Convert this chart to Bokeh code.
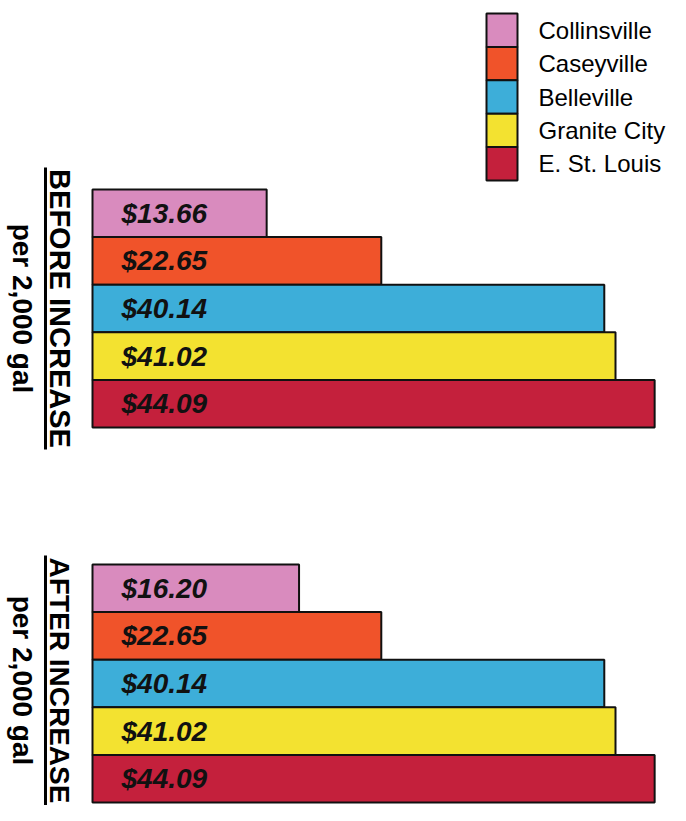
import math
from bokeh.plotting import figure
from bokeh.models import Range1d, ColumnDataSource
from bokeh.core.properties import value
from bokeh.embed import file_html
from bokeh.resources import INLINE

# ---- data ----
cities = ["Collinsville", "Caseyville", "Belleville", "Granite City", "E. St. Louis"]
colors = ["#D98BBE", "#F0532A", "#3DAED9", "#F3E230", "#C4203C"]
before = [13.66, 22.65, 40.14, 41.02, 44.09]
after = [16.20, 22.65, 40.14, 41.02, 44.09]
group_titles = ["BEFORE INCREASE", "AFTER INCREASE"]
unit_label = "per 2,000 gal"

# ---- layout (canvas pixels) ----
W, H = 670, 805
PX_PER_UNIT = 12.75
X0 = 92
BAR_H = 47.6
GROUP_TOPS = [189, 564]
TITLE_SHIFT = [0, -3]
TITLE_X = 59
UNIT_X = 22
UNDERLINE_X = 45
UNDERLINE_LEN = [282, 250]
TITLE_SIZE = ["29px", "28px"]
LEG_X0, LEG_X1 = 486, 517
LEG_TOP = 13
LEG_ROW = 33.4
LEG_TEXT_X = 538
FONT = value("Liberation Sans")

p = figure(width=W, height=H, output_backend="svg", toolbar_location=None,
           x_range=Range1d(-X0 / PX_PER_UNIT, (W - X0) / PX_PER_UNIT),
           y_range=Range1d(H, 0), min_border=0,
           x_axis_location=None, y_axis_location=None,
           background_fill_color="white", border_fill_color="white")
p.outline_line_color = None
p.grid.visible = False
p.extra_x_ranges = {"px": Range1d(0, W)}

for g, vals in enumerate([before, after]):
    tops = [GROUP_TOPS[g] + i * BAR_H for i in range(len(vals))]
    src = ColumnDataSource(dict(
        left=[0] * len(vals), right=vals,
        top=tops, bottom=[t + BAR_H for t in tops],
        mid=[t + BAR_H / 2 for t in tops],
        color=colors, label=[f"${v:.2f}" for v in vals],
    ))
    p.quad(left="left", right="right", top="top", bottom="bottom", source=src,
           fill_color="color", line_color="#111111", line_width=2)
    p.text(x="left", y="mid", text="label", source=src, x_offset=29,
           text_baseline="middle", text_align="left", text_font=FONT,
           text_font_style="bold italic", text_font_size="28px", text_color="#111111")

    center = GROUP_TOPS[g] + len(vals) * BAR_H / 2 + TITLE_SHIFT[g]
    p.text(x=[TITLE_X], y=[center], text=[group_titles[g]], angle=-math.pi / 2,
           x_range_name="px", text_align="center", text_baseline="middle",
           text_font=FONT, text_font_style="bold", text_font_size=TITLE_SIZE[g],
           text_color="#000000")
    p.text(x=[UNIT_X], y=[center], text=[unit_label], angle=-math.pi / 2,
           x_range_name="px", text_align="center", text_baseline="middle",
           text_font=FONT, text_font_style="bold", text_font_size="28px",
           text_color="#000000")
    half = UNDERLINE_LEN[g] / 2
    p.segment(x0=[UNDERLINE_X], y0=[center - half], x1=[UNDERLINE_X], y1=[center + half],
              x_range_name="px", line_color="#000000", line_width=3)

# legend
ltops = [LEG_TOP + i * LEG_ROW for i in range(len(cities))]
lsrc = ColumnDataSource(dict(
    left=[LEG_X0] * len(cities), right=[LEG_X1] * len(cities),
    top=ltops, bottom=[t + LEG_ROW for t in ltops],
    mid=[t + LEG_ROW / 2 for t in ltops], tx=[LEG_TEXT_X] * len(cities),
    color=colors, name=cities,
))
p.quad(left="left", right="right", top="top", bottom="bottom", source=lsrc,
       x_range_name="px", fill_color="color", line_color="#111111", line_width=2)
p.text(x="tx", y="mid", text="name", source=lsrc, x_range_name="px",
       text_baseline="middle", text_align="left", text_font=FONT,
       text_font_size="24px", text_color="#000000")

open("out.html", "w").write(file_html(p, INLINE))
